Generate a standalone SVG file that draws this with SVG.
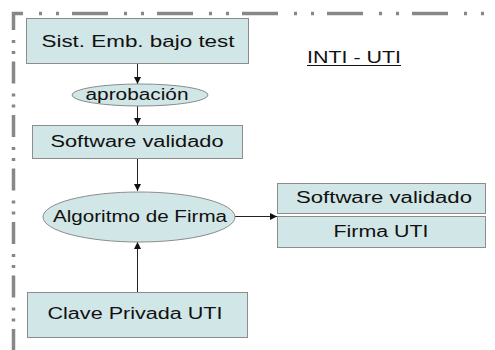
<svg xmlns="http://www.w3.org/2000/svg" width="495" height="350" viewBox="0 0 495 350">
<style>
.box{fill:#d1e6e6;stroke:#8c8c8c;stroke-width:1}
.t{font-family:"Liberation Sans",Arial,sans-serif;font-size:16px;fill:#111;text-anchor:middle}
.c{stroke:#222;stroke-width:1;fill:none;marker-end:url(#ah)}
.bd{stroke:#878787;stroke-width:3.5;fill:none}
</style>
<defs>
<marker id="ah" markerWidth="8" markerHeight="8" refX="7" refY="3.5" orient="auto" markerUnits="userSpaceOnUse">
<path d="M0,0 L7,3.5 L0,7 Z" fill="#111"/>
</marker>
</defs>
<rect width="495" height="350" fill="#fff"/>
<g id="border">
<line class="bd" x1="12" y1="13.5" x2="495" y2="13.5" stroke-dasharray="36 16 3 14 3 13" stroke-dashoffset="25"/>
<line class="bd" x1="13.5" y1="12" x2="13.5" y2="350" stroke-dasharray="22 10 3 8 3 7.5" stroke-dashoffset="4"/>
</g>
<g id="title">
<text class="t" x="354" y="63" textLength="94" lengthAdjust="spacingAndGlyphs">INTI - UTI</text>
<line x1="307" y1="65.5" x2="401" y2="65.5" stroke="#111" stroke-width="1"/>
</g>
<g id="connectors">
<line class="c" x1="137.5" y1="63" x2="137.5" y2="84"/>
<line class="c" x1="137.5" y1="106" x2="137.5" y2="125"/>
<line class="c" x1="137.5" y1="158" x2="137.5" y2="191"/>
<line class="c" x1="235" y1="216.5" x2="277" y2="216.5"/>
<line class="c" x1="137.5" y1="292" x2="137.5" y2="242"/>
</g>
<g id="sist">
<rect class="box" x="26.5" y="18.5" width="222" height="45"/>
<text class="t" x="138" y="47" textLength="193" lengthAdjust="spacingAndGlyphs">Sist. Emb. bajo test</text>
</g>
<g id="aprobacion">
<ellipse class="box" cx="140" cy="95" rx="68" ry="11"/>
<text class="t" x="137" y="100" textLength="103" lengthAdjust="spacingAndGlyphs">aprobación</text>
</g>
<g id="software">
<rect class="box" x="32.5" y="125.5" width="210" height="33"/>
<text class="t" x="137" y="147" textLength="173" lengthAdjust="spacingAndGlyphs">Software validado</text>
</g>
<g id="algoritmo">
<ellipse class="box" cx="139" cy="217" rx="96" ry="25"/>
<text class="t" x="140" y="222" textLength="174" lengthAdjust="spacingAndGlyphs">Algoritmo de Firma</text>
</g>
<g id="software-out">
<rect class="box" x="277.5" y="183.5" width="208" height="30"/>
<text class="t" x="384" y="203" textLength="176" lengthAdjust="spacingAndGlyphs">Software validado</text>
</g>
<g id="firma">
<rect class="box" x="277.5" y="216.5" width="208" height="31"/>
<text class="t" x="381" y="237" textLength="95" lengthAdjust="spacingAndGlyphs">Firma UTI</text>
</g>
<g id="clave">
<rect class="box" x="27.5" y="292.5" width="220" height="45"/>
<text class="t" x="135" y="319" textLength="175" lengthAdjust="spacingAndGlyphs">Clave Privada UTI</text>
</g>
</svg>
